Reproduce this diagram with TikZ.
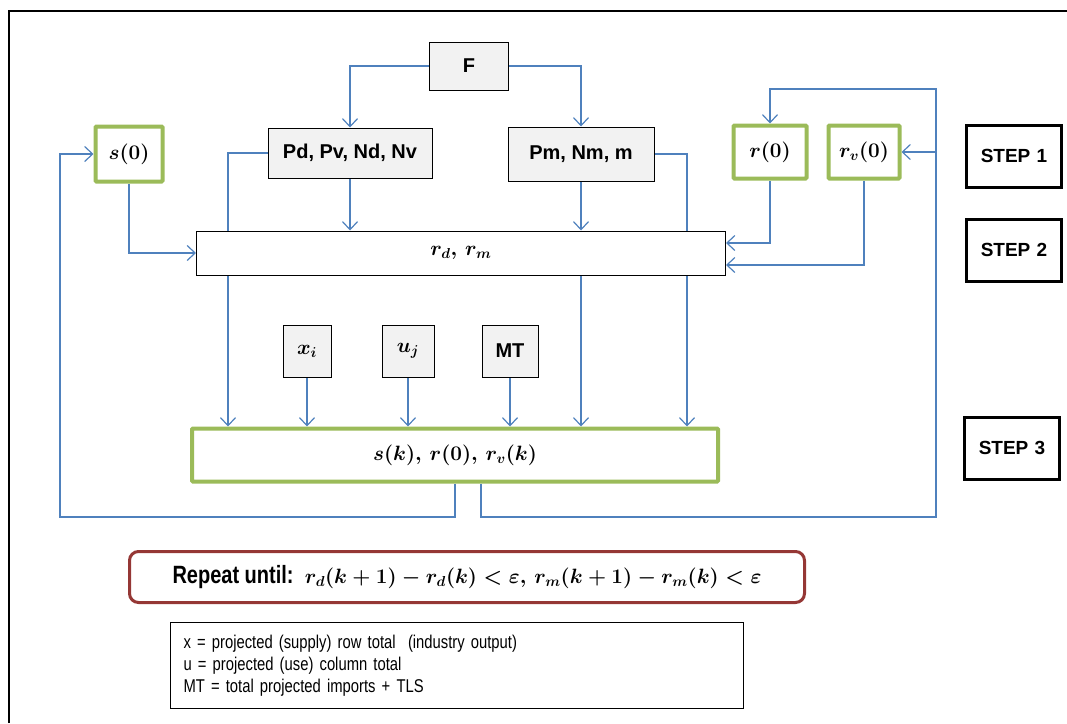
\documentclass[tikz,border=0pt]{standalone}
\usepackage{amsmath}
\usepackage{fontspec}
\setmainfont{Liberation Sans}
\newfontfamily\narrowfont[FakeStretch=0.8]{Liberation Sans}
\usepackage{tikz}
\usetikzlibrary{arrows.meta,positioning,backgrounds}
\definecolor{flow}{HTML}{4F81BD}
\definecolor{sage}{HTML}{9BBB59}
\definecolor{wine}{HTML}{953735}
\definecolor{boxgray}{HTML}{F2F2F2}
\newcommand{\bm}[1]{{\boldmath$#1$}}

\begin{document}
\begin{tikzpicture}[x=1pt,y=-1pt,>={Straight Barb[length=8pt,width=15pt]},
  inbox/.style={draw=black,line width=1pt,fill=boxgray,inner sep=0pt,font=\fontsize{20}{24}\selectfont\bfseries},
  seedbox/.style={draw=sage,line width=4pt,fill=white,rounded corners=1pt,inner sep=0pt,font=\fontsize{22}{26}\selectfont},
  stepbox/.style={draw=black,line width=3pt,minimum width=95pt,minimum height=62pt,font=\fontsize{19}{22}\selectfont\bfseries},
  feed/.style={flow,line width=1.2pt}]
  \useasboundingbox (0,0) rectangle (1067,723);
  \draw[line width=2pt] (9,723) -- (9,11) -- (1067,11);

  % inputs
  \node[inbox,minimum width=79pt,minimum height=48pt] (F) at (469,66) {F};
  \node[inbox,minimum width=164pt,minimum height=50pt] (Pd) at (350,153) {Pd, Pv, Nd, Nv};
  \node[inbox,minimum width=146pt,minimum height=54pt] (Pm) at (581,154) {Pm, Nm, m};
  \node[seedbox,minimum width=67pt,minimum height=55pt] (s0) at (129,154) {\bm{s(0)}};
  \node[seedbox,minimum width=73pt,minimum height=53pt] (r0) at (770,152) {\bm{r(0)}};
  \node[seedbox,minimum width=71pt,minimum height=53pt] (rv0) at (864,152) {\bm{r_v(0)}};
  \node[draw=black,line width=1pt,fill=white,minimum width=529pt,minimum height=44pt,
        font=\fontsize{22}{26}\selectfont] (rd) at (461,253) {\bm{r_d,\,r_m}\hspace{12pt}};
  \node[inbox,minimum width=48pt,minimum height=52pt,font=\fontsize{22}{26}\selectfont] (xi) at (307,351) {\bm{x_i}};
  \node[inbox,minimum width=52pt,minimum height=52pt,font=\fontsize{22}{26}\selectfont] (uj) at (408,351) {\bm{u_j}};
  \node[inbox,minimum width=56pt,minimum height=52pt] (mt) at (510,351) {MT};
  \node[seedbox,minimum width=526pt,minimum height=53pt,font=\fontsize{21}{25}\selectfont] (sk) at (455,455) {\bm{s(k),\,r(0),\,r_v(k)}};

  % steps
  \node[stepbox] (st1) at (1014,156) {STEP\,\,1};
  \node[stepbox] (st2) at (1014,250) {STEP\,\,2};
  \node[stepbox] (st3) at (1012,448) {STEP\,\,3};

  % stop rule and legend
  \node[draw=wine,line width=3pt,rounded corners=9pt,minimum width=675pt,minimum height=51pt,
        font=\fontsize{21}{25}\selectfont] (rep) at (467,577)
        {{\narrowfont\fontsize{25}{28}\selectfont\bfseries Repeat until:}\,
         \bm{r_d(k+1)-r_d(k)<\varepsilon,\,r_m(k+1)-r_m(k)<\varepsilon}};
  \node[draw=black,line width=1pt,anchor=north west,minimum width=573pt,minimum height=86pt,
        inner xsep=13pt,inner ysep=8pt,text width=547pt,align=left,
        font=\narrowfont\fontsize{18.5}{22}\selectfont] (key) at (170,622)
        {x = projected (supply) row total \ (industry output)\\
         u = projected (use) column total\\
         MT = total projected imports + TLS};

  \coordinate (backL) at (60,517);
  \coordinate (backR) at (936,517);
  \coordinate (topR) at (936,89);

  \begin{scope}[on background layer]
    \draw[feed,->] (F.west) -| (Pd.north);
    \draw[feed,->] (F.east) -| (Pm.north);
    \draw[feed,->] (Pd.west) -| ([xshift=38pt]sk.north west);
    \draw[feed,->] (Pm.east) -| ([xshift=-33pt]sk.north east);
    \draw[feed,->] (Pd.south) -- (Pd |- rd.north);
    \draw[feed,->] (Pm.south) -- (Pm |- rd.north);
    \draw[feed,->] (Pm |- rd.south) -- (Pm |- sk.north);
    \draw[feed,->] (s0.south) |- (rd.west);
    \draw[feed,->] (r0.south) |- ([yshift=10pt]rd.east);
    \draw[feed,->] (rv0.south) |- ([yshift=-12pt]rd.east);
    \foreach \n in {xi,uj,mt}
      \draw[feed,->] (\n.south) -- (\n |- sk.north);
    \draw[feed,->] (sk.south) |- (backL) |- (s0.west);
    \draw[feed,->] ([xshift=26pt]sk.south) |- (backR) -- (topR) -| (r0.north);
    \draw[feed,->] (topR |- rv0.east) -- (rv0.east);
  \end{scope}
\end{tikzpicture}
\end{document}
